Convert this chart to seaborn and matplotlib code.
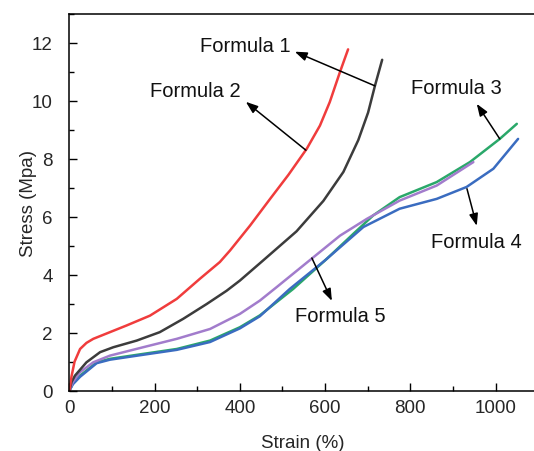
import numpy as np
import pandas as pd
import matplotlib
matplotlib.use("Agg")
import matplotlib.pyplot as plt
from matplotlib.ticker import MultipleLocator
import seaborn as sns

# Curves (strain %, stress MPa)
f1_strain = [0, 5, 13, 40, 72, 103, 158, 212, 267, 322, 369, 400, 455, 533, 596, 643, 678, 701, 717, 734]
f1_stress = [0, 0.3, 0.52, 0.98, 1.33, 1.5, 1.73, 2.02, 2.48, 2.99, 3.45, 3.8, 4.5, 5.5, 6.55, 7.55, 8.65, 9.6, 10.52, 11.42]

f2_strain = [0, 5, 12, 25, 40, 56, 95, 134, 189, 252, 306, 353, 377, 424, 471, 514, 557, 588, 611, 635, 654]
f2_stress = [0, 0.5, 1.0, 1.44, 1.65, 1.79, 2.02, 2.25, 2.59, 3.17, 3.86, 4.44, 4.84, 5.7, 6.62, 7.45, 8.35, 9.15, 9.96, 11.0, 11.78]

f3_strain = [0, 8, 25, 64, 95, 173, 252, 330, 400, 447, 525, 604, 666, 713, 775, 862, 940, 1010, 1050]
f3_stress = [0, 0.25, 0.52, 0.98, 1.1, 1.27, 1.44, 1.73, 2.19, 2.6, 3.51, 4.55, 5.41, 6.05, 6.68, 7.2, 7.89, 8.69, 9.21]

f4_strain = [0, 8, 25, 64, 95, 173, 252, 330, 400, 447, 517, 600, 690, 775, 862, 932, 995, 1053]
f4_stress = [0, 0.22, 0.48, 0.95, 1.07, 1.24, 1.41, 1.68, 2.15, 2.57, 3.51, 4.5, 5.65, 6.28, 6.62, 7.03, 7.66, 8.69]

f5_strain = [0, 8, 25, 56, 95, 173, 252, 330, 400, 447, 486, 568, 635, 698, 775, 862, 948]
f5_stress = [0, 0.3, 0.64, 0.98, 1.21, 1.5, 1.79, 2.13, 2.65, 3.11, 3.57, 4.55, 5.35, 5.93, 6.56, 7.08, 7.89]

names = ["Formula 1", "Formula 2", "Formula 3", "Formula 4", "Formula 5"]
colors = ["#3c3c3c", "#f03c3c", "#2aa86a", "#3a6cc0", "#a27ccc"]

# label text position, arrow head (near text), arrow start (on curve)
label_pos = [(412, 11.91), (295, 10.36), (909, 10.46), (954, 5.14), (635, 2.58)]
arrow_head = [(529, 11.7), (414, 9.97), (956, 9.9), (956, 5.69), (616, 3.1)]
arrow_tail = [(717, 10.52), (555, 8.3), (1010, 8.69), (933, 6.97), (569, 4.58)]

frames = []
for name, xs, ys in zip(names,
                        [f1_strain, f2_strain, f3_strain, f4_strain, f5_strain],
                        [f1_stress, f2_stress, f3_stress, f4_stress, f5_stress]):
    frames.append(pd.DataFrame({"Strain": xs, "Stress": ys, "Sample": name}))
df = pd.concat(frames, ignore_index=True)

sns.set_theme(style="ticks")
plt.rcParams["font.family"] = ["Liberation Sans", "DejaVu Sans"]

fig = plt.figure(figsize=(5.34, 4.52), dpi=100)
ax = fig.add_axes([0.130, 0.1334, 0.8777, 0.8334])

# draw order: green, blue, purple, black, red
order = ["Formula 3", "Formula 4", "Formula 5", "Formula 1", "Formula 2"]
for name in order:
    sub = df[df["Sample"] == name]
    sns.lineplot(data=sub, x="Strain", y="Stress", color=colors[names.index(name)],
                 linewidth=1.8, estimator=None, sort=False, ax=ax)

for name, tp, hp, sp in zip(names, label_pos, arrow_head, arrow_tail):
    ax.text(tp[0], tp[1], name, fontsize=14.5, ha="center", va="center", color="#111111")
    ax.annotate("", xy=hp, xytext=sp,
                arrowprops=dict(arrowstyle="-|>,head_length=0.6,head_width=0.22",
                                color="black", lw=1.1, shrinkA=0, shrinkB=0))

ax.set_xlim(0, 1100)
ax.set_ylim(0, 13)
ax.xaxis.set_major_locator(MultipleLocator(200))
ax.xaxis.set_minor_locator(MultipleLocator(100))
ax.yaxis.set_major_locator(MultipleLocator(2))
ax.yaxis.set_minor_locator(MultipleLocator(1))
ax.tick_params(which="both", direction="in", top=False, right=False, width=1.0, color="black")
ax.tick_params(which="major", length=6)
ax.tick_params(which="minor", length=3.5)
ax.tick_params(axis="x", labelsize=13.5, pad=6)
ax.tick_params(axis="y", labelsize=13.5, pad=12)
for s in ax.spines.values():
    s.set_linewidth(1.1)
    s.set_color("black")

ax.set_xlabel("Strain (%)", fontsize=13.5)
ax.set_ylabel("Stress (Mpa)", fontsize=13.5)
ax.xaxis.set_label_coords(0.498, -0.115)
ax.yaxis.set_label_coords(-0.07, 0.5)

fig.savefig("out.png", dpi=100)
